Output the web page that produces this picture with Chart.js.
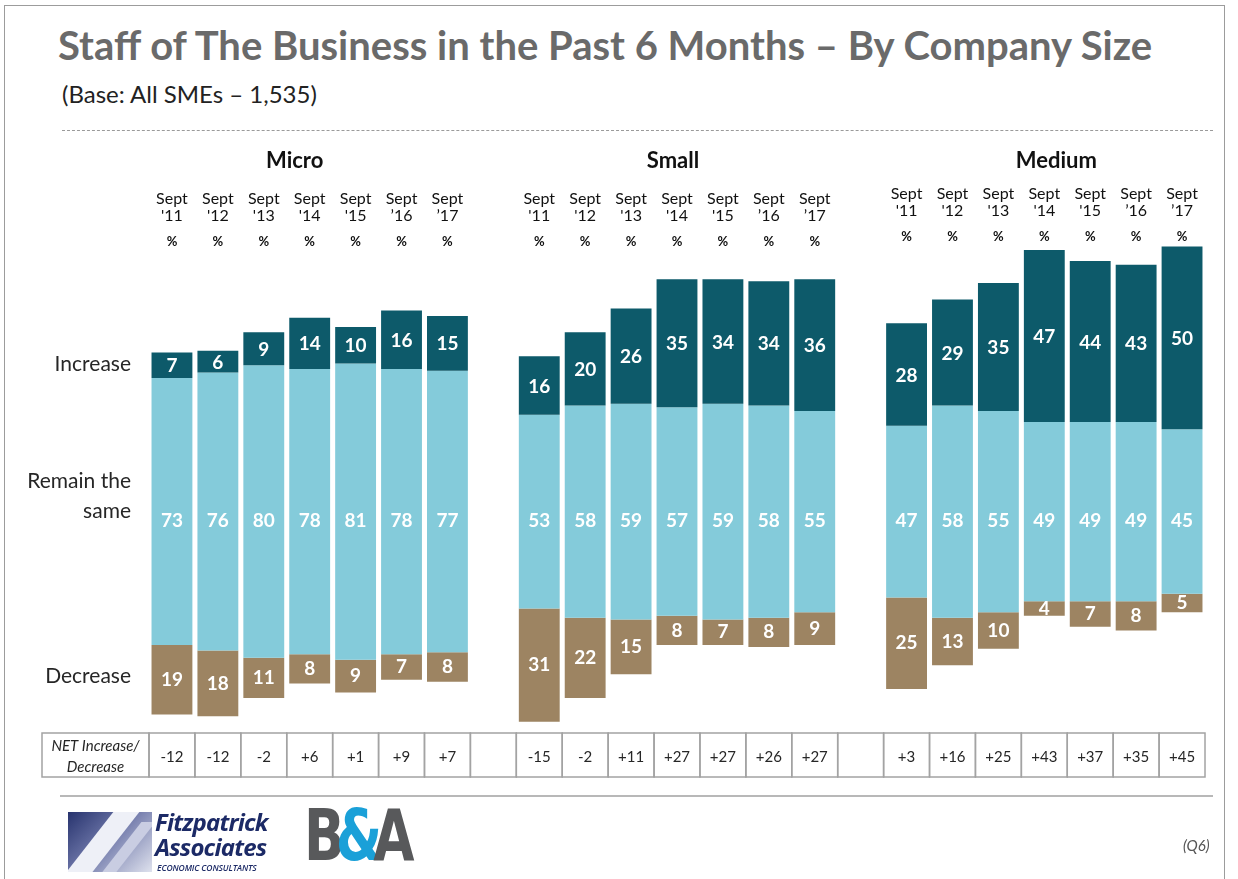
<!DOCTYPE html>
<html>
<head>
<meta charset="utf-8">
<title>Staff of The Business in the Past 6 Months</title>
<script src="https://cdn.jsdelivr.net/npm/chart.js@4.4.1/dist/chart.umd.min.js"></script>
<style>
    html, body { margin: 0; padding: 0; background: #fff; }
    body { width: 1238px; height: 879px; position: relative; overflow: hidden; font-family: Lato, 'Open Sans', sans-serif; }
    #frame { position: absolute; left: 4px; top: 5px; width: 1219px; height: 900px; border: 1.5px solid #9c9c9c; }
    #title { position: absolute; left: 58px; top: 25px; font-size: 40px; font-weight: 700; color: #6a6a6a; white-space: nowrap; line-height: 1; }
    #subtitle { position: absolute; left: 62px; top: 82px; font-size: 24px; color: #222; white-space: nowrap; line-height: 1; }
    #rule { position: absolute; left: 62px; top: 130px; width: 1151px; border-top: 1px dashed #9a9a9a; }
    #footRule { position: absolute; left: 60px; top: 795px; width: 1153px; border-top: 2px solid #b8b8b8; }
    #chart { position: absolute; left: 0; top: 0; }
    .fa-icon { position: absolute; left: 68px; top: 812px; width: 84px; height: 60px; overflow: hidden;
               background: linear-gradient(135deg, #27336e 0%, #6d76a8 45%, #dfe2ee 100%); }
    .fa-icon .cut1 { position: absolute; left: 18px; top: -10px; width: 26px; height: 90px; background: #eef0f7; transform: skewX(-38deg); }
    .fa-icon .cut2 { position: absolute; left: 50px; top: 10px; width: 14px; height: 60px; background: #c9cde2; transform: skewX(-38deg); }
    .fa-name { position: absolute; left: 155px; top: 809px; font-family: 'Open Sans', sans-serif; font-style: italic; font-weight: 700;
               color: #1c2a66; font-size: 24px; line-height: 25px; letter-spacing: -0.8px; }
    .fa-sub { position: absolute; left: 157px; top: 862px; font-family: 'Open Sans', sans-serif; font-style: italic; font-weight: 600;
              color: #1c2a66; font-size: 8.5px; letter-spacing: -0.1px; }
    .ba-logo { position: absolute; left: 304px; top: 799px; font-family: 'DejaVu Sans', sans-serif; font-weight: 700; font-size: 72px;
               letter-spacing: -12px; line-height: 1; transform: scaleX(0.74); transform-origin: left top; white-space: nowrap; }
    .ba-logo .g { color: #58595b; }
    .ba-logo .b { color: #1aa0d8; }
    #q6 { position: absolute; left: 1183px; top: 836px; font-size: 15px; font-style: italic; color: #555; }
</style>
</head>
<body>
<div id="frame"></div>
<div id="title">Staff of The Business in the Past 6 Months – By Company Size</div>
<div id="subtitle">(Base: All SMEs – 1,535)</div>
<div id="rule"></div>
<canvas id="chart" width="1238" height="879"></canvas>
<div id="footRule"></div>
<div class="fa-icon"><div class="cut1"></div><div class="cut2"></div></div>
<div class="fa-name">Fitzpatrick<br>Associates</div>
<div class="fa-sub">ECONOMIC CONSULTANTS</div>
<div class="ba-logo"><span class="g">B</span><span class="b">&amp;</span><span class="g">A</span></div>
<div id="q6">(Q6)</div>

<script>
// Gruppi e anni
const groups = ['Micro', 'Small', 'Medium'];
const yearLabels = ["'11", "'12", "'13", "'14", "'15", '\u201916', '\u201917'];

// Percentuali per gruppo (Sept '11 .. Sept '17)
const microIncrease = [7, 6, 9, 14, 10, 16, 15];
const microRemain = [73, 76, 80, 78, 81, 78, 77];
const microDecrease = [19, 18, 11, 8, 9, 7, 8];
const microNet = [-12, -12, -2, 6, 1, 9, 7];

const smallIncrease = [16, 20, 26, 35, 34, 34, 36];
const smallRemain = [53, 58, 59, 57, 59, 58, 55];
const smallDecrease = [31, 22, 15, 8, 7, 8, 9];
const smallNet = [-15, -2, 11, 27, 27, 26, 27];

const mediumIncrease = [28, 29, 35, 47, 44, 43, 50];
const mediumRemain = [47, 58, 55, 49, 49, 49, 45];
const mediumDecrease = [25, 13, 10, 4, 7, 8, 5];
const mediumNet = [3, 16, 25, 43, 37, 35, 45];

const rowLabels = ['Increase', 'Remain the same', 'Decrease'];

// Una colonna vuota tra un gruppo e l'altro
const joinGroups = (a, b, c) => [...a, null, ...b, null, ...c];
const categories = joinGroups(
    yearLabels.map(y => 'Micro ' + y),
    yearLabels.map(y => 'Small ' + y),
    yearLabels.map(y => 'Medium ' + y)
);
const increase = joinGroups(microIncrease, smallIncrease, mediumIncrease);
const remain = joinGroups(microRemain, smallRemain, mediumRemain);
const decrease = joinGroups(microDecrease, smallDecrease, mediumDecrease);
const net = joinGroups(microNet, smallNet, mediumNet);
categories[7] = ' ';
categories[15] = '  ';

// Barre flottanti centrate sullo zero della parte "Remain the same"
const remainRange = remain.map(r => r == null ? null : [-r / 2, r / 2]);
const increaseRange = increase.map((v, i) => v == null ? null : [remain[i] / 2, remain[i] / 2 + v]);
const decreaseRange = decrease.map((v, i) => v == null ? null : [-remain[i] / 2 - v, -remain[i] / 2]);

const COLORS = { increase: '#0d5a6a', remain: '#84cbda', decrease: '#9d8462' };
const FONT = "Lato, 'Open Sans', sans-serif";

const overlayText = {
    id: 'overlayText',
    afterDatasetsDraw(chart) {
        const { ctx, scales: { x } } = chart;
        const slot = x.getPixelForValue(1) - x.getPixelForValue(0);
        ctx.save();
        ctx.textAlign = 'center';
        ctx.textBaseline = 'middle';

        // Etichette dei segmenti
        const series = [increase, remain, decrease];
        const shifts = [1, 9, 0];
        series.forEach((vals, d) => {
            const meta = chart.getDatasetMeta(d);
            meta.data.forEach((bar, i) => {
                if (vals[i] == null) return;
                const p = bar.getProps(['x', 'y', 'base'], true);
                ctx.font = 'bold 19px ' + FONT;
                ctx.fillStyle = '#ffffff';
                ctx.fillText(String(vals[i]), p.x, (p.y + p.base) / 2 + shifts[d]);
            });
        });

        // Titoli dei gruppi e intestazioni delle colonne
        const lift = [0, 0, 5];
        const titleNudge = [-15, -4, 12];
        groups.forEach((g, gi) => {
            const first = gi * 8, last = first + 6;
            const cx = (x.getPixelForValue(first) + x.getPixelForValue(last)) / 2;
            ctx.fillStyle = '#111';
            ctx.font = 'bold 22px ' + FONT;
            ctx.fillText(g, cx + titleNudge[gi], 161);
            yearLabels.forEach((y, j) => {
                const px = x.getPixelForValue(first + j);
                ctx.font = '16px ' + FONT;
                ctx.fillText('Sept', px, 199 - lift[gi]);
                ctx.fillText(y, px, 216 - lift[gi]);
                ctx.font = 'bold 13px ' + FONT;
                ctx.fillText('%', px, 242 - lift[gi]);
            });
        });

        // Etichette delle righe
        ctx.textAlign = 'right';
        ctx.fillStyle = '#262626';
        ctx.font = '21px ' + FONT;
        ctx.fillText(rowLabels[0], 131, 364);
        ctx.fillText('Remain the', 131, 481);
        ctx.fillText('same', 131, 511);
        ctx.fillText(rowLabels[2], 131, 676);

        // Tabella NET Increase/Decrease
        const top = 733, bottom = 777;
        const left = x.getPixelForValue(0) - slot / 2;
        ctx.strokeStyle = '#a3a3a3';
        ctx.lineWidth = 1.5;
        ctx.strokeRect(42, top, left - 42, bottom - top);
        ctx.textAlign = 'center';
        ctx.font = 'italic 15px ' + FONT;
        ctx.fillText('NET Increase/', (42 + left) / 2, 746);
        ctx.fillText('Decrease', (42 + left) / 2, 767);
        ctx.font = '15px ' + FONT;
        net.forEach((v, i) => {
            const px = x.getPixelForValue(i);
            ctx.strokeRect(px - slot / 2, top, slot, bottom - top);
            if (v == null) return;
            ctx.fillText(v > 0 ? '+' + v : String(v), px, 757);
        });
        ctx.restore();
    }
};

new Chart(document.getElementById('chart'), {
    type: 'bar',
    data: {
        labels: categories,
        datasets: [
            { label: 'Increase', data: increaseRange, backgroundColor: COLORS.increase },
            { label: 'Remain the same', data: remainRange, backgroundColor: COLORS.remain },
            { label: 'Decrease', data: decreaseRange, backgroundColor: COLORS.decrease }
        ]
    },
    options: {
        responsive: false,
        animation: false,
        barPercentage: 0.89,
        categoryPercentage: 1,
        borderWidth: 0,
        layout: { padding: { left: 149, right: 33, top: 219, bottom: 148 } },
        plugins: {
            legend: { display: false },
            tooltip: { enabled: false }
        },
        scales: {
            x: { stacked: true, display: false },
            y: { display: false, min: -60, max: 80 }
        }
    },
    plugins: [overlayText]
});
</script>
</body>
</html>
